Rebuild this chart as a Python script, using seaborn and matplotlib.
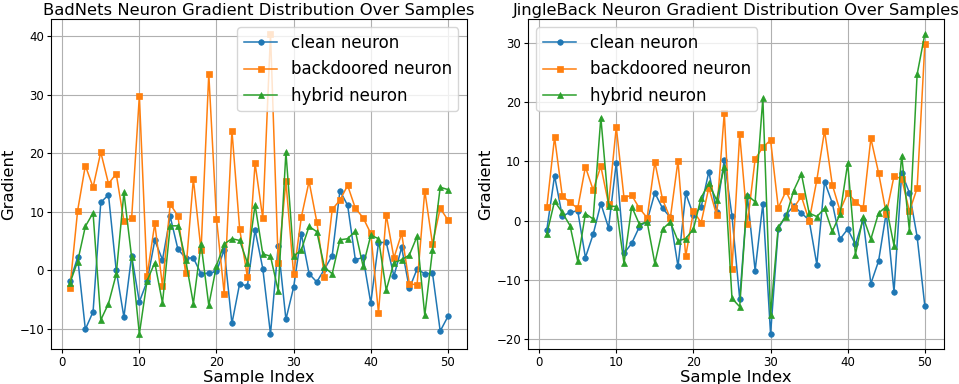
import numpy as np
import pandas as pd
import seaborn as sns
import matplotlib.pyplot as plt

# sample index 1..50
samples = list(range(1, 51))

# BadNets
badnets_clean = [-1.9, 2.2, -10.1, -7.1, 11.6, 12.9, 0.0, -8.0, 2.5, -5.4,
                 -1.9, 5.1, 1.8, 9.2, 3.6, 2.1, 2.1, -0.6, -0.5, -0.2,
                 3.5, -9.1, -2.3, -2.7, 6.9, 0.3, -10.9, 4.2, -8.4, -2.9,
                 6.2, -0.6, -2.0, 0.2, 2.5, 13.6, 11.1, 1.8, 2.2, -5.6,
                 4.7, 4.8, -1.0, 3.9, -3.1, 0.2, -0.6, -0.5, -10.4, -7.9]
badnets_backdoor = [-3.0, 10.2, 17.9, 14.2, 20.2, 14.8, 16.5, 8.4, 8.9, 29.8,
                    -1.0, 8.0, -2.7, 11.3, 9.3, -0.5, 15.6, 3.4, 33.6, 8.8,
                    -4.0, 23.9, 7.1, -1.1, 18.3, 8.9, 40.4, 1.3, 15.2, -0.7,
                    9.1, 15.2, 8.3, -1.1, 10.4, 12.0, 14.5, 10.6, 9.0, 6.3,
                    -7.3, 9.5, 2.1, 6.3, -2.3, -2.5, 13.6, 4.5, 10.6, 8.6]
badnets_hybrid = [-2.2, 1.5, 7.5, 9.8, -8.5, -5.7, -0.7, 13.3, 2.2, -10.9,
                  -1.8, 1.3, -5.6, 7.6, 7.6, 1.8, -5.7, 4.5, -6.0, 0.8,
                  4.5, 5.4, 5.1, 1.3, 11.2, 2.8, 2.4, -3.5, 20.2, 2.4,
                  3.5, 7.5, 6.6, 0.5, -0.6, 5.2, 5.4, 6.7, 0.7, 6.0,
                  5.4, -3.4, 1.3, 1.8, 2.6, 5.8, -7.7, 3.4, 14.2, 13.8]

# JingleBack
jingle_clean = [-1.5, 7.6, 0.8, 1.4, 1.7, -6.2, -2.3, 2.9, -1.2, 9.8,
                -5.5, -3.8, -1.0, 0.0, 4.7, 2.1, 0.6, -7.7, 4.6, 1.0,
                2.3, 8.3, 1.5, 10.3, 0.8, -13.2, 4.1, -8.4, 2.9, -19.1,
                -1.4, 1.0, 2.5, 1.3, 0.1, -7.4, 6.6, 3.0, -3.1, -1.4,
                -4.0, 0.2, -10.6, -6.8, 1.4, -12.0, 8.1, 4.7, -2.7, -14.4]
jingle_backdoor = [2.3, 14.1, 4.2, 3.1, 2.1, 9.1, 5.2, 9.2, 2.8, 15.8,
                   3.9, 4.3, 2.1, 0.5, 9.9, 3.6, 0.4, 10.1, -6.0, 1.6,
                   -0.3, 5.6, 1.0, 18.2, -8.1, 14.6, -0.5, 10.4, 12.4, 13.6,
                   2.2, 5.0, 2.2, 4.1, 0.0, 6.9, 15.2, 6.1, 1.7, 4.7,
                   3.2, 2.1, 13.9, 8.1, 1.2, 7.5, 7.1, 1.6, 5.5, 29.8]
jingle_hybrid = [-2.2, 3.3, 1.4, -0.8, -6.8, 1.2, 0.3, 17.4, 2.5, 2.4,
                 -7.2, 2.4, -0.6, -0.2, -7.2, -1.4, -0.2, -3.4, -3.0, -1.4,
                 3.9, 6.3, 3.5, 9.1, -13.1, -14.5, 4.3, 3.2, 20.7, -15.9,
                 -1.0, 0.7, 5.1, 7.9, 1.3, 0.7, 2.1, -1.8, 1.1, 9.7,
                 -5.7, 0.6, -3.1, 1.3, 2.4, -4.2, 11.0, -1.7, 24.7, 31.5]

panels = [
    ("BadNets Neuron Gradient Distribution Over Samples",
     badnets_clean, badnets_backdoor, badnets_hybrid, "upper right"),
    ("JingleBack Neuron Gradient Distribution Over Samples",
     jingle_clean, jingle_backdoor, jingle_hybrid, "upper left"),
]

labels = ["clean neuron", "backdoored neuron", "hybrid neuron"]
markers = ["o", "s", "^"]
colors = ["#1f77b4", "#ff7f0e", "#2ca02c"]

fig, axes = plt.subplots(1, 2, figsize=(9.59, 3.84), dpi=100)

for ax, (title, clean, backdoor, hybrid, loc) in zip(axes, panels):
    for vals, lab, m, c in zip([clean, backdoor, hybrid], labels, markers, colors):
        df = pd.DataFrame({"sample": samples, "grad": vals})
        sns.lineplot(data=df, x="sample", y="grad", ax=ax, label=lab,
                     marker=m, color=c, markersize=4, linewidth=1.1,
                     markeredgecolor=c, markeredgewidth=0.5)
    ax.set_title(title, fontsize=11.8, pad=3)
    ax.set_xlabel("Sample Index", fontsize=11.8, labelpad=1)
    ax.set_ylabel("Gradient", fontsize=11.8, labelpad=2)
    ax.tick_params(labelsize=8.5, length=3, pad=2)
    ax.grid(True)
    ax.legend(loc=loc, fontsize=12, handlelength=2)

plt.subplots_adjust(left=0.0532, right=0.9841, bottom=0.0911, top=0.9505, wspace=0.147)
fig.savefig("out.png")
